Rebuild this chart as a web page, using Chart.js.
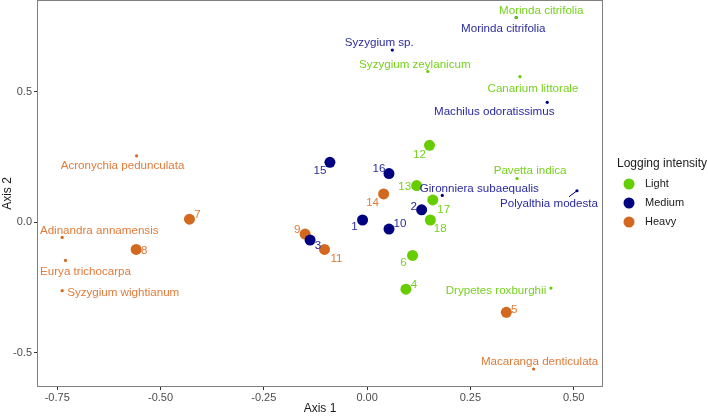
<!DOCTYPE html>
<html>
<head>
<meta charset="utf-8">
<script src="https://cdn.jsdelivr.net/npm/chart.js@4.4.0/dist/chart.umd.min.js"></script>
<style>
  body { margin: 0; background: #fff; }
  canvas { display: block; }
</style>
</head>
<body>
<canvas id="ordinationChart" width="708" height="416"></canvas>
<script>
// sites (plots) scores
var siteLabels = ['1', '2', '3', '4', '5', '6', '7', '8', '9', '10', '11', '12', '13', '14', '15', '16', '17', '18'];
var siteAxis1 = [-0.011, 0.132, -0.138, 0.094, 0.337, 0.110, -0.430, -0.559, -0.150, 0.053, -0.103, 0.151, 0.120, 0.040, -0.090, 0.053, 0.159, 0.153];
var siteAxis2 = [0.008, 0.047, -0.069, -0.257, -0.346, -0.128, 0.011, -0.105, -0.046, -0.027, -0.105, 0.294, 0.140, 0.108, 0.229, 0.186, 0.085, 0.008];
var siteLogging = ['Medium', 'Medium', 'Medium', 'Light', 'Heavy', 'Light', 'Heavy', 'Heavy', 'Heavy', 'Medium', 'Heavy', 'Light', 'Light', 'Heavy', 'Medium', 'Medium', 'Light', 'Light'];

// indicator species scores
var speciesNames = ['Morinda citrifolia', 'Syzygium zeylanicum', 'Canarium littorale', 'Pavetta indica', 'Drypetes roxburghii',
    'Morinda citrifolia', 'Syzygium sp.', 'Machilus odoratissimus', 'Gironniera subaequalis', 'Polyalthia modesta',
    'Acronychia pedunculata', 'Adinandra annamensis', 'Eurya trichocarpa', 'Syzygium wightianum', 'Macaranga denticulata'];
var speciesAxis1 = [0.361, 0.147, 0.370, 0.363, 0.445, 0.361, 0.061, 0.436, 0.182, 0.508, -0.558, -0.738, -0.730, -0.738, 0.403];
var speciesAxis2 = [0.784, 0.577, 0.557, 0.167, -0.253, 0.784, 0.659, 0.459, 0.102, 0.120, 0.254, -0.059, -0.147, -0.263, -0.563];
var speciesLogging = ['Light', 'Light', 'Light', 'Light', 'Light', 'Medium', 'Medium', 'Medium', 'Medium', 'Medium',
    'Heavy', 'Heavy', 'Heavy', 'Heavy', 'Heavy'];

var loggingLevels = ['Light', 'Medium', 'Heavy'];
var xTicks = [-0.75, -0.5, -0.25, 0, 0.25, 0.5];
var yTicks = [-0.5, 0, 0.5];

var levelColors = { Light: '#66CD00', Medium: '#000080', Heavy: '#D2691E' };
var textColors = { Light: '#76D11E', Medium: '#2B2BA0', Heavy: '#E07B3A' };
var FONT = '"Liberation Sans", Arial, sans-serif';

// label nudges in px (dx, dy from point to text centre)
var siteNudge = {
    '1': [-8, 7], '2': [-8, -3], '3': [8, 6], '4': [8, -4], '5': [8, -3], '6': [-9, 7],
    '7': [8, -4], '8': [8, 1], '9': [-8, -4], '10': [11, -5], '11': [12, 9], '12': [-10, 9],
    '13': [-12, 1], '14': [-11, 9], '15': [-10, 8], '16': [-10, -5], '17': [11, 10], '18': [10, 9]
};
var speciesNudge = [[25, -7], [-13, -7], [13, 12], [13, -8], [-55, 3],
    [-13, 11], [-13, -7], [-53, 10], [37, -7], [-28, 13],
    [-14, 10], [37, -7], [20, 11], [61, 2], [6, -7]];

var datasets = [];
loggingLevels.forEach(function(level, i) {
    datasets.push({
        label: level,
        data: siteLabels.map(function(lab, k) {
            return { x: siteAxis1[k], y: siteAxis2[k], name: lab };
        }).filter(function(p, k) { return siteLogging[k] === level; }),
        backgroundColor: levelColors[level],
        borderWidth: 0,
        pointRadius: 5.5,
        order: i,
        kind: 'site'
    });
});
loggingLevels.forEach(function(level, i) {
    datasets.push({
        label: level + ' species',
        data: speciesNames.map(function(name, k) {
            return { x: speciesAxis1[k], y: speciesAxis2[k], name: name, idx: k };
        }).filter(function(p, k) { return speciesLogging[k] === level; }),
        backgroundColor: levelColors[level],
        borderWidth: 0,
        pointRadius: 1.6,
        order: 3 + i,
        kind: 'species'
    });
});

var labelPlugin = {
    id: 'pointLabels',
    afterDatasetsDraw: function(chart) {
        var ctx = chart.ctx;
        ctx.save();
        ctx.textAlign = 'center';
        ctx.textBaseline = 'middle';
        chart.data.datasets.forEach(function(ds, di) {
            var meta = chart.getDatasetMeta(di);
            var level = ds.label.split(' ')[0];
            ctx.fillStyle = textColors[level];
            ctx.strokeStyle = levelColors[level];
            ctx.font = '11.6px ' + FONT;
            meta.data.forEach(function(el, j) {
                var p = ds.data[j];
                var off = ds.kind === 'site' ? siteNudge[p.name] : speciesNudge[p.idx];
                ctx.fillText(p.name, el.x + off[0], el.y + off[1]);
                if (p.name === 'Polyalthia modesta') {
                    ctx.lineWidth = 1;
                    ctx.beginPath();
                    ctx.moveTo(el.x, el.y);
                    ctx.lineTo(el.x - 8, el.y + 6);
                    ctx.stroke();
                }
            });
        });
        ctx.restore();
    }
};

var framePlugin = {
    id: 'panelFrame',
    afterDraw: function(chart) {
        var a = chart.chartArea;
        var ctx = chart.ctx;
        ctx.save();
        ctx.strokeStyle = '#808080';
        ctx.lineWidth = 1;
        ctx.strokeRect(Math.round(a.left) + 0.5, Math.round(a.top) + 0.5,
            Math.round(a.right - a.left) - 1, Math.round(a.bottom - a.top) - 1);

        // axis titles
        ctx.fillStyle = '#1a1a1a';
        ctx.font = '12px ' + FONT;
        ctx.textAlign = 'center';
        ctx.textBaseline = 'middle';
        ctx.fillText('Axis 1', (a.left + a.right) / 2, 409);
        ctx.translate(8, (a.top + a.bottom) / 2);
        ctx.rotate(-Math.PI / 2);
        ctx.fillText('Axis 2', 0, 0);
        ctx.restore();

        // legend
        ctx.save();
        ctx.fillStyle = '#1a1a1a';
        ctx.font = '12px ' + FONT;
        ctx.textBaseline = 'middle';
        ctx.fillText('Logging intensity', 617, 164);
        ctx.font = '11px ' + FONT;
        loggingLevels.forEach(function(level, i) {
            var y = 184 + i * 19;
            ctx.fillStyle = levelColors[level];
            ctx.beginPath();
            ctx.arc(629, y, 5.5, 0, Math.PI * 2);
            ctx.fill();
            ctx.fillStyle = '#1a1a1a';
            ctx.fillText(level, 645, y);
        });
        ctx.restore();
    }
};

var canvas = document.getElementById('ordinationChart');

var chart = new Chart(canvas, {
    type: 'scatter',
    data: { datasets: datasets },
    options: {
        responsive: false,
        animation: false,
        layout: { autoPadding: false, padding: { top: 0, right: 105, left: 0, bottom: 0 } },
        scales: {
            x: {
                type: 'linear',
                min: -0.799,
                max: 0.571,
                afterFit: function(scale) {
                    scale.height = 29;
                    scale.paddingLeft = 0;
                    scale.paddingRight = 0;
                },
                afterBuildTicks: function(scale) {
                    scale.ticks = xTicks.map(function(v) { return { value: v }; });
                },
                ticks: {
                    callback: function(value) { return value.toFixed(2); },
                    color: '#4D4D4D',
                    font: { family: FONT, size: 11 },
                    padding: 1,
                    maxRotation: 0,
                    autoSkip: false
                },
                grid: { display: true, drawOnChartArea: false, tickLength: 3, color: '#333333' },
                border: { display: false }
            },
            y: {
                type: 'linear',
                min: -0.632,
                max: 0.851,
                afterFit: function(scale) {
                    scale.width = 37;
                    scale.paddingTop = 0;
                    scale.paddingBottom = 0;
                },
                afterBuildTicks: function(scale) {
                    scale.ticks = yTicks.map(function(v) { return { value: v }; });
                },
                ticks: {
                    callback: function(value) { return value.toFixed(1); },
                    color: '#4D4D4D',
                    font: { family: FONT, size: 11 },
                    padding: 2,
                    autoSkip: false
                },
                grid: { display: true, drawOnChartArea: false, tickLength: 3, color: '#333333' },
                border: { display: false }
            }
        },
        plugins: {
            legend: { display: false },
            tooltip: { enabled: false }
        }
    },
    plugins: [labelPlugin, framePlugin]
});
</script>
</body>
</html>
